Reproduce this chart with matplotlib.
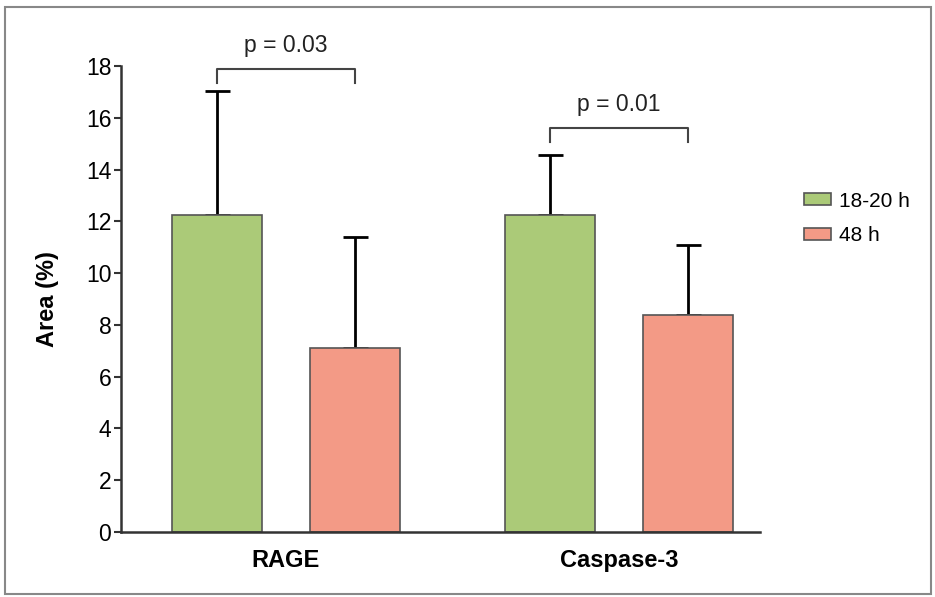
import matplotlib
matplotlib.use("Agg")
import matplotlib.pyplot as plt
import matplotlib.patches as mpatches
import numpy as np

plt.rcParams['font.family'] = ['Liberation Sans', 'DejaVu Sans']

categories = ['RAGE', 'Caspase-3']
groups = ['18-20 h', '48 h']
means_early = [12.25, 12.25]
sd_early = [4.8, 2.3]
means_late = [7.1, 8.4]
sd_late = [4.3, 2.7]
p_labels = ['p = 0.03', 'p = 0.01']
bracket_top = [17.9, 15.6]
bracket_drop = [0.55, 0.55]

GREEN = '#abca78'
RED = '#f39a86'
EDGE = '#555555'

fig = plt.figure(figsize=(9.35, 5.97), dpi=100)
ax = fig.add_axes([121/935, 1 - 532/597, (760-121)/935, (532-66)/597])

x = np.arange(len(categories))
off = 0.207
w = 0.27
ax.bar(x - off, means_early, w, color=GREEN, edgecolor=EDGE, linewidth=1.2, label=groups[0], zorder=2)
ax.bar(x + off, means_late, w, color=RED, edgecolor=EDGE, linewidth=1.2, label=groups[1], zorder=2)
ax.errorbar(x - off, means_early, yerr=[np.zeros(2), sd_early], fmt='none', ecolor='black',
            elinewidth=2, capsize=9, capthick=2, zorder=1)
ax.errorbar(x + off, means_late, yerr=[np.zeros(2), sd_late], fmt='none', ecolor='black',
            elinewidth=2, capsize=9, capthick=2, zorder=1)

for i in range(len(categories)):
    x0, x1 = x[i] - off, x[i] + off
    top = bracket_top[i]
    ax.plot([x0, x0, x1, x1], [top - bracket_drop[i], top, top, top - bracket_drop[i]],
            color='#444444', lw=1.5, clip_on=False)
    ax.text(x[i], top + 0.45, p_labels[i], ha='center', va='bottom', fontsize=16.5, color='#222222')

ax.set_xlim(-0.495, 1.423)
ax.set_ylim(0, 18)
ax.set_yticks(range(0, 19, 2))
ax.set_xticks(x)
ax.set_xticklabels(categories, fontsize=17, fontweight='bold')
ax.tick_params(axis='x', length=0, pad=12)
ax.tick_params(axis='y', labelsize=16.5, length=5, width=1.5, direction='out', color='#333333', pad=2)
ax.set_ylabel('Area (%)', fontsize=17, fontweight='bold', labelpad=19)
for s in ['top', 'right']:
    ax.spines[s].set_visible(False)
for s in ['left', 'bottom']:
    ax.spines[s].set_linewidth(1.8)
    ax.spines[s].set_color('#333333')

fig.legend(loc='upper left', bbox_to_anchor=(785/935, 1 - 173/597), frameon=False,
           fontsize=15, handlelength=1.3, handleheight=0.5, labelspacing=0.75, handletextpad=0.4)

fig.patches.append(mpatches.Rectangle((5/935, 3/597), 926/935, 587/597, transform=fig.transFigure,
                                      fill=False, edgecolor='#888888', linewidth=1.5))

fig.savefig('out.png', dpi=100)
